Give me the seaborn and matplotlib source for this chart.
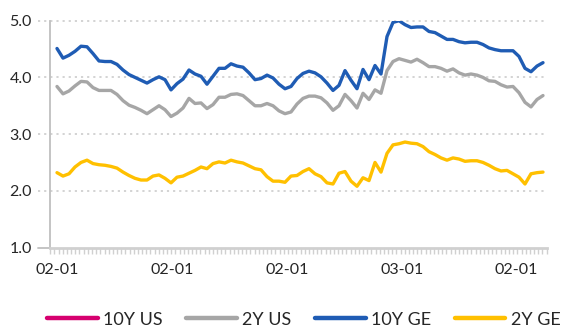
import numpy as np
import pandas as pd
import matplotlib
matplotlib.use("Agg")
import matplotlib.pyplot as plt
from matplotlib.lines import Line2D
from matplotlib.ticker import FixedLocator
import seaborn as sns

# ---- data ----
series_names = ["10Y US", "2Y US", "10Y GE", "2Y GE"]
tick_labels = ["02-01", "02-01", "02-01", "03-01", "02-01"]

us_2y = [3.84, 3.71, 3.76, 3.85, 3.93, 3.92, 3.82, 3.77, 3.77, 3.77,
         3.70, 3.59, 3.51, 3.47, 3.42, 3.36, 3.43, 3.50, 3.43, 3.31,
         3.37, 3.46, 3.63, 3.54, 3.55, 3.45, 3.52, 3.65, 3.65, 3.70,
         3.71, 3.68, 3.59, 3.50, 3.50, 3.54, 3.50, 3.41, 3.36, 3.39,
         3.53, 3.63, 3.67, 3.67, 3.64, 3.55, 3.42, 3.50, 3.70, 3.59,
         3.46, 3.72, 3.61, 3.78, 3.72, 4.12, 4.28, 4.33, 4.30, 4.27,
         4.32, 4.26, 4.19, 4.19, 4.16, 4.11, 4.15, 4.08, 4.04, 4.06,
         4.04, 4.00, 3.94, 3.93, 3.87, 3.83, 3.84, 3.73, 3.56, 3.48,
         3.61, 3.68]

ge_10y = [4.51, 4.34, 4.39, 4.46, 4.55, 4.54, 4.42, 4.29, 4.28, 4.28,
          4.23, 4.13, 4.05, 4.00, 3.95, 3.90, 3.96, 4.01, 3.96, 3.78,
          3.89, 3.97, 4.13, 4.06, 4.02, 3.88, 4.02, 4.16, 4.16, 4.24,
          4.20, 4.18, 4.08, 3.96, 3.98, 4.04, 3.99, 3.88, 3.80, 3.84,
          3.98, 4.07, 4.11, 4.08, 4.01, 3.90, 3.77, 3.86, 4.12, 3.95,
          3.80, 4.14, 3.96, 4.21, 4.06, 4.72, 4.97, 5.00, 4.93, 4.88,
          4.89, 4.89, 4.81, 4.79, 4.73, 4.67, 4.67, 4.63, 4.61, 4.62,
          4.62, 4.58, 4.52, 4.49, 4.47, 4.47, 4.47, 4.37, 4.16, 4.10,
          4.20, 4.26]

ge_2y = [2.32, 2.26, 2.30, 2.42, 2.50, 2.54, 2.48, 2.46, 2.45, 2.43,
         2.40, 2.33, 2.27, 2.22, 2.19, 2.19, 2.26, 2.28, 2.22, 2.14,
         2.24, 2.26, 2.31, 2.36, 2.42, 2.39, 2.48, 2.51, 2.49, 2.54,
         2.51, 2.49, 2.44, 2.39, 2.37, 2.25, 2.17, 2.17, 2.15, 2.26,
         2.27, 2.34, 2.39, 2.30, 2.25, 2.14, 2.12, 2.31, 2.34, 2.17,
         2.08, 2.23, 2.18, 2.50, 2.33, 2.66, 2.81, 2.83, 2.86, 2.84,
         2.83, 2.78, 2.69, 2.64, 2.58, 2.54, 2.58, 2.56, 2.52, 2.53,
         2.53, 2.50, 2.45, 2.39, 2.35, 2.36, 2.30, 2.24, 2.12, 2.30,
         2.32, 2.33]

colors = {"10Y US": "#D6006F", "2Y US": "#A6A6A6",
          "10Y GE": "#1F5CB4", "2Y GE": "#FFC000"}

n = len(ge_10y)
idx = np.arange(n)
df = pd.concat([
    pd.DataFrame({"t": idx, "value": us_2y, "series": "2Y US"}),
    pd.DataFrame({"t": idx, "value": ge_10y, "series": "10Y GE"}),
    pd.DataFrame({"t": idx, "value": ge_2y, "series": "2Y GE"}),
], ignore_index=True)

sns.set_theme(style="white")
plt.rcParams["font.family"] = ["Lato", "DejaVu Sans"]

fig = plt.figure(figsize=(5.68, 3.27), dpi=100)
ax = fig.add_axes([50 / 568, 1 - 247.5 / 327, 497 / 568, (247.5 - 20.7) / 327])

sns.lineplot(data=df, x="t", y="value", hue="series",
             hue_order=["2Y US", "10Y GE", "2Y GE"],
             palette=colors, linewidth=2.4, ax=ax, legend=False,
             sort=False)
ax.set_xlabel("")
ax.set_ylabel("")

xmin, xmax = -7 / 6, (n - 1) + 4 / 6
ax.set_xlim(xmin, xmax)
ax.set_ylim(1.0, 5.0)

# y grid (dotted, extending slightly left of axis like the reference)
yt = [1.0, 2.0, 3.0, 4.0, 5.0]
ax.set_yticks(yt)
ax.set_yticklabels([f"{v:.1f}" for v in yt])
trans = ax.get_yaxis_transform()
for v in yt[1:]:
    ax.plot([-0.024, 1.0], [v, v], transform=trans, color="#D0D0D0",
            linestyle=(0, (1.2, 2.2)), linewidth=1.3, clip_on=False, zorder=0)
ax.plot([-0.024, 0], [1.0, 1.0], transform=trans, color="#BFBFBF",
        linewidth=1.3, clip_on=False, zorder=0)

# x ticks
major_pos = np.array([0, 19.2, 38.4, 57.6, 76.6])
ax.set_xticks(major_pos)
ax.set_xticklabels(tick_labels)
ax.xaxis.set_minor_locator(FixedLocator(np.arange(xmin + 0.05, xmax, 0.695)))
ax.tick_params(axis="x", which="major", length=0, pad=11, labelsize=11.5,
               colors="#262626")
ax.tick_params(axis="x", which="minor", length=4.5, width=1.0,
               color="#D0D0D0", direction="out", bottom=True)
ax.tick_params(axis="y", length=0, pad=13, labelsize=11.5, colors="#262626")

for s in ["top", "right"]:
    ax.spines[s].set_visible(False)
ax.spines["left"].set_color("#BFBFBF")
ax.spines["left"].set_linewidth(1.3)
ax.spines["bottom"].set_color("#D0D0D0")
ax.spines["bottom"].set_linewidth(2.0)
ax.grid(False)

handles = [Line2D([], [], color=colors[s], linewidth=3.2) for s in series_names]
fig.legend(handles, series_names, loc="center", ncol=4,
           bbox_to_anchor=(0.535, 0.022), frameon=False, fontsize=13,
           handlelength=2.8, handletextpad=0.3, columnspacing=1.3,
           labelcolor="#262626")

fig.savefig("out.png", dpi=100)
